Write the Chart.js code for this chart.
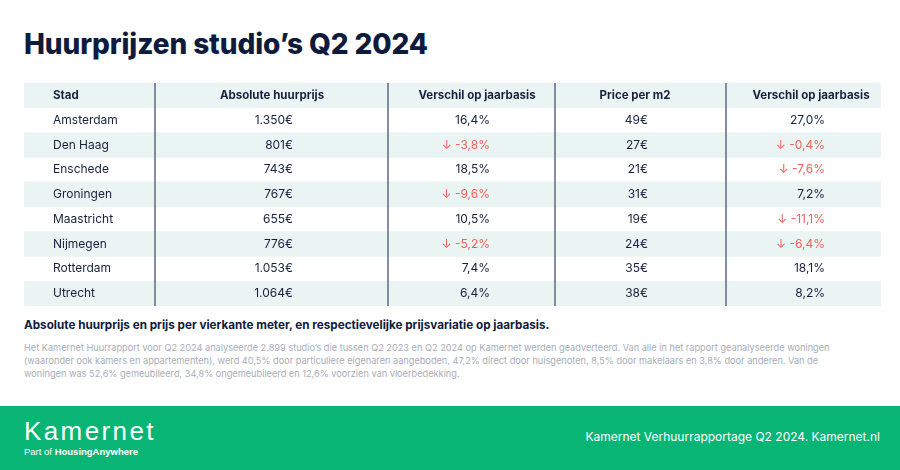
<!DOCTYPE html>
<html>
<head>
<meta charset="utf-8">
<script src="https://cdn.jsdelivr.net/npm/chart.js@4/dist/chart.umd.min.js"></script>
<style>
  html, body { margin: 0; padding: 0; background: #fff; }
  body { width: 900px; height: 470px; position: relative; overflow: hidden; font-family: Inter, "DejaVu Sans", sans-serif; color: #0f1b3d; }
  h1 { position: absolute; left: 24px; top: 26px; margin: 0; font-size: 28px; font-weight: 800; letter-spacing: -0.1px; line-height: 36px; }
  #tableBox { position: absolute; left: 24px; top: 83px; width: 857px; height: 223px; }
  .caption { position: absolute; left: 24px; top: 318px; margin: 0; font-size: 11.7px; font-weight: 700; white-space: nowrap; }
  .note { position: absolute; left: 24px; top: 341px; margin: 0; font-size: 9.2px; line-height: 13px; color: #a9adb7; white-space: nowrap; }
  .footer { position: absolute; left: 0; top: 406px; width: 900px; height: 64px; background: #09b574; color: #fff; }
  .logo { position: absolute; left: 24px; top: 10px; font-size: 26px; font-family: "Liberation Sans", sans-serif; letter-spacing: 2.4px; line-height: 30px; }
  .part { position: absolute; left: 24px; top: 40px; font-size: 9.5px; font-family: "Liberation Sans", sans-serif; }
  .part b { font-weight: 600; }
  .source { position: absolute; right: 20px; top: 23px; font-size: 12px; }
</style>
</head>
<body>
<h1>Huurprijzen studio’s Q2 2024</h1>
<div id="tableBox"><canvas id="rentTable"></canvas></div>
<p class="caption">Absolute huurprijs en prijs per vierkante meter, en respectievelijke prijsvariatie op jaarbasis.</p>
<p class="note">Het Kamernet Huurrapport voor Q2 2024 analyseerde 2.899 studio’s die tussen Q2 2023 en Q2 2024 op Kamernet werden geadverteerd. Van alle in het rapport geanalyseerde woningen<br>(waaronder ook kamers en appartementen), werd 40,5% door particuliere eigenaren aangeboden, 47,2% direct door huisgenoten, 8,5% door makelaars en 3,8% door anderen. Van de<br>woningen was 52,6% gemeubileerd, 34,8% ongemeubileerd en 12,6% voorzien van vloerbedekking.</p>
<div class="footer">
  <div class="logo">Kamernet</div>
  <div class="part">Part of <b>HousingAnywhere</b></div>
  <div class="source">Kamernet Verhuurrapportage Q2 2024. Kamernet.nl</div>
</div>
<script>
// Table data
const headers = ['Stad', 'Absolute huurprijs', 'Verschil op jaarbasis', 'Price per m2', 'Verschil op jaarbasis'];
const cities = ['Amsterdam', 'Den Haag', 'Enschede', 'Groningen', 'Maastricht', 'Nijmegen', 'Rotterdam', 'Utrecht'];
const rent = [1350, 801, 743, 767, 655, 776, 1053, 1064];
const rentChange = [16.4, -3.8, 18.5, -9.6, 10.5, -5.2, 7.4, 6.4];
const pricePerM2 = [49, 27, 21, 31, 19, 24, 35, 38];
const m2Change = [27.0, -0.4, -7.6, 7.2, -11.1, -6.4, 18.1, 8.2];

// Layout of the columns, in x-scale units (0 = left edge of table)
const tableWidth = 857;
const colEdges = [131, 364, 531, 702];
const headerX = [29, 248, 453, 611, 787];
const valueX = [29, 269, 466, 624, 801];

const navy = '#17213f';
const red = '#f0625a';
const stripe = '#eaf4f2';

function fmtEuro(v) {
  const s = String(v);
  const t = s.length > 3 ? s.slice(0, s.length - 3) + '.' + s.slice(-3) : s;
  return t + '€';
}
function fmtPct(v) {
  const s = v.toFixed(1).replace('.', ',') + '%';
  return v < 0 ? '↓ ' + s : s;
}

const rowLabels = ['header'].concat(cities);

const tableText = {
  id: 'tableText',
  afterDatasetsDraw(chart) {
    const { ctx, chartArea, scales: { x, y } } = chart;
    ctx.save();
    // column separators
    ctx.strokeStyle = '#66728c';
    ctx.lineWidth = 1.6;
    colEdges.forEach(e => {
      const px = x.getPixelForValue(e);
      ctx.beginPath();
      ctx.moveTo(px, chartArea.top);
      ctx.lineTo(px, chartArea.bottom);
      ctx.stroke();
    });
    ctx.textBaseline = 'middle';
    // header row
    ctx.fillStyle = navy;
    ctx.font = '700 11.5px Inter, "DejaVu Sans", sans-serif';
    headers.forEach((h, i) => {
      ctx.textAlign = i === 0 ? 'left' : 'center';
      ctx.fillText(h, x.getPixelForValue(headerX[i]), y.getPixelForValue(0));
    });
    // body rows
    ctx.font = '400 12px Inter, "DejaVu Sans", sans-serif';
    cities.forEach((c, r) => {
      const py = y.getPixelForValue(r + 1);
      const cells = [c, fmtEuro(rent[r]), fmtPct(rentChange[r]), fmtEuro(pricePerM2[r]), fmtPct(m2Change[r])];
      const neg = [false, false, rentChange[r] < 0, false, m2Change[r] < 0];
      cells.forEach((txt, i) => {
        ctx.textAlign = i === 0 ? 'left' : 'right';
        ctx.fillStyle = neg[i] ? red : navy;
        ctx.fillText(txt, x.getPixelForValue(valueX[i]), py);
      });
    });
    ctx.restore();
  }
};

const ctx = document.getElementById('rentTable').getContext('2d');
new Chart(ctx, {
  type: 'bar',
  data: {
    labels: rowLabels,
    datasets: [{
      // alternating row shading as floating bars across the full table width
      data: rowLabels.map((_, i) => i % 2 === 0 ? [0, tableWidth] : null),
      backgroundColor: stripe,
      borderWidth: 0,
      barPercentage: 1,
      categoryPercentage: 1
    }]
  },
  options: {
    indexAxis: 'y',
    responsive: true,
    maintainAspectRatio: false,
    animation: false,
    layout: { padding: 0 },
    plugins: { legend: { display: false }, tooltip: { enabled: false } },
    scales: {
      x: { type: 'linear', min: 0, max: tableWidth, display: false },
      y: { display: false }
    }
  },
  plugins: [tableText]
});
</script>
</body>
</html>
